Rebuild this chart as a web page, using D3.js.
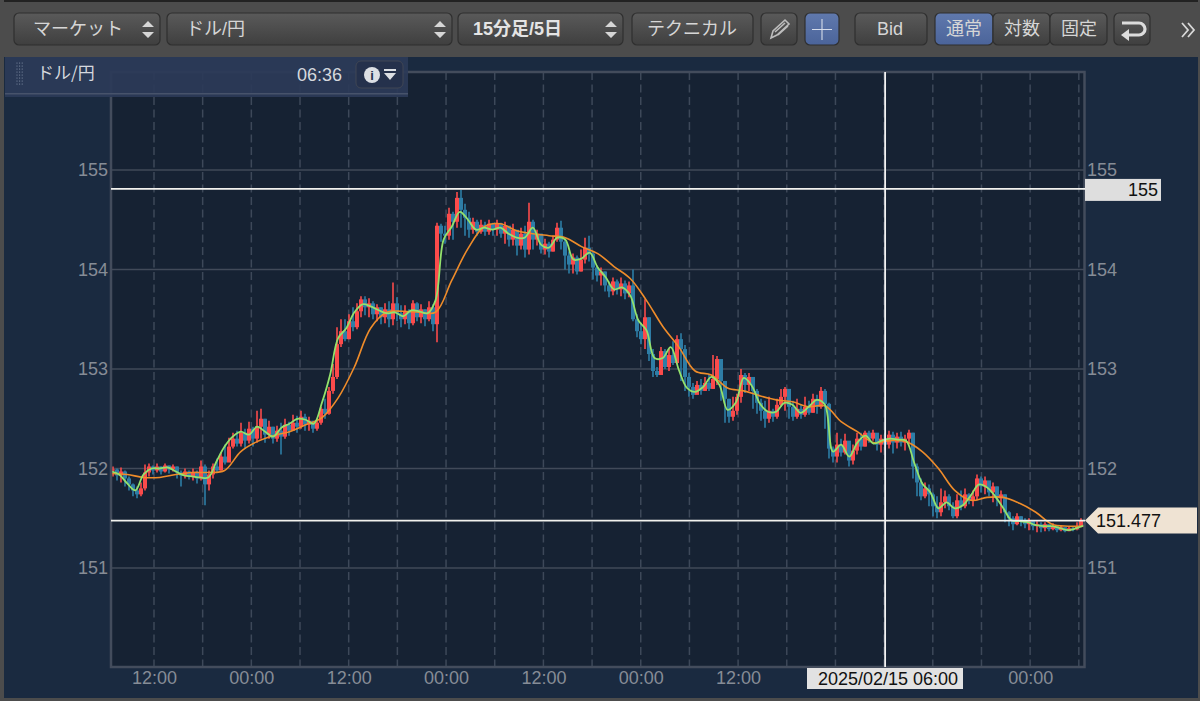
<!DOCTYPE html>
<html>
<head>
<meta charset="utf-8">
<script src="https://d3js.org/d3.v7.min.js"></script>
<style>
  html, body { margin: 0; padding: 0; background: #1a2a40; overflow: hidden; }
  text { font-family: "Liberation Sans", "Noto Sans CJK JP", sans-serif; }
</style>
</head>
<body>
<div id="chart"></div>
<script>
// 30分相当の足 (left to right)
var firstOpen = 151.98;
var closes = [
  151.99,151.93,151.97,151.90,151.84,151.78,151.74,151.80,
  151.96,152.02,151.98,152.02,151.97,152.03,151.99,152.02,
  151.96,151.93,151.97,151.92,151.96,151.90,152.02,151.84,
  151.94,152.02,151.98,152.12,152.06,152.22,152.30,152.25,
  152.36,152.28,152.40,152.30,152.42,152.50,152.34,152.42,
  152.30,152.38,152.32,152.44,152.38,152.46,152.42,152.52,
  152.44,152.48,152.40,152.46,152.60,152.55,152.78,152.92,
  153.25,153.38,153.30,153.48,153.42,153.58,153.70,153.62,
  153.66,153.55,153.62,153.52,153.60,153.50,153.66,153.56,
  153.50,153.58,153.46,153.66,153.52,153.60,153.50,153.62,
  153.45,154.44,154.36,154.34,154.56,154.48,154.72,154.60,
  154.52,154.40,154.48,154.38,154.45,154.38,154.46,154.40,
  154.46,154.36,154.44,154.30,154.40,154.24,154.36,154.20,
  154.48,154.30,154.36,154.20,154.26,154.18,154.30,154.42,
  154.28,154.14,154.05,154.12,153.98,154.10,154.22,154.16,
  154.02,153.94,153.98,153.84,153.78,153.88,153.80,153.86,
  153.76,153.84,153.50,153.38,153.30,153.52,153.15,152.98,
  152.94,153.18,153.02,153.14,153.06,153.30,153.20,152.92,
  152.82,152.74,152.84,152.78,152.86,152.80,152.90,153.10,
  152.88,152.70,152.52,152.58,152.72,152.94,152.84,152.92,
  152.78,152.66,152.58,152.50,152.58,152.52,152.64,152.72,
  152.80,152.62,152.52,152.60,152.54,152.62,152.56,152.70,
  152.62,152.78,152.65,152.20,152.12,152.24,152.16,152.28,
  152.08,152.18,152.30,152.22,152.36,152.30,152.36,152.24,
  152.30,152.24,152.34,152.26,152.32,152.26,152.30,152.36,
  152.02,151.86,151.72,151.80,151.74,151.62,151.56,151.66,
  151.72,151.62,151.52,151.68,151.62,151.74,151.68,151.72,
  151.90,151.82,151.88,151.76,151.82,151.70,151.74,151.56,
  151.50,151.44,151.52,151.47,151.44,151.47,151.42,151.44,
  151.40,151.44,151.39,151.42,151.38,151.41,151.37,151.40,
  151.39,151.42,151.48
];
var highs = [
  152.02,152.00,152.01,151.98,151.92,151.85,151.82,151.86,
  152.04,152.05,152.03,152.05,152.02,152.05,152.03,152.04,
  152.02,151.98,152.00,151.98,152.00,151.98,152.08,152.04,
  151.98,152.05,152.10,152.16,152.24,152.31,152.36,152.38,
  152.46,152.40,152.47,152.42,152.58,152.60,152.50,152.48,
  152.42,152.43,152.46,152.50,152.47,152.54,152.53,152.58,
  152.55,152.52,152.48,152.50,152.62,152.70,152.82,153.05,
  153.42,153.50,153.50,153.55,153.62,153.66,153.73,153.73,
  153.71,153.68,153.65,153.62,153.66,153.68,153.87,153.72,
  153.64,153.64,153.60,153.69,153.67,153.65,153.60,153.68,
  153.65,154.47,154.46,154.44,154.62,154.58,154.78,154.80,
  154.66,154.58,154.52,154.50,154.50,154.48,154.50,154.47,
  154.50,154.47,154.48,154.42,154.46,154.38,154.42,154.44,
  154.67,154.50,154.40,154.36,154.31,154.28,154.34,154.47,
  154.49,154.32,154.18,154.16,154.14,154.20,154.32,154.34,
  154.18,154.04,154.02,153.98,153.88,153.92,153.90,153.92,
  153.89,153.88,154.00,153.55,153.46,153.70,153.52,153.20,
  153.02,153.22,153.20,153.20,153.28,153.34,153.36,153.24,
  152.96,152.86,152.88,152.90,152.92,152.95,153.14,153.13,
  152.98,152.88,152.70,152.72,152.75,153.00,152.96,152.96,
  152.90,152.80,152.70,152.68,152.72,152.60,152.70,152.80,
  152.82,152.72,152.68,152.70,152.64,152.72,152.68,152.75,
  152.74,152.82,152.80,152.66,152.22,152.36,152.30,152.35,
  152.20,152.24,152.36,152.36,152.38,152.38,152.39,152.33,
  152.34,152.36,152.38,152.37,152.36,152.37,152.34,152.39,
  152.36,152.05,151.90,151.86,151.84,151.76,151.72,151.80,
  151.78,151.74,151.66,151.74,151.78,151.80,151.75,151.78,
  151.94,151.92,151.92,151.84,151.86,151.82,151.78,151.74,
  151.57,151.52,151.55,151.52,151.50,151.50,151.48,151.47,
  151.46,151.46,151.44,151.45,151.42,151.43,151.41,151.42,
  151.42,151.46,151.50
];
var lows = [
  151.92,151.88,151.86,151.82,151.78,151.72,151.70,151.72,
  151.78,151.92,151.94,151.96,151.94,151.96,151.95,151.97,
  151.90,151.82,151.90,151.89,151.88,151.85,151.88,151.63,
  151.78,151.90,151.96,151.98,152.04,152.08,152.20,152.22,
  152.22,152.20,152.25,152.22,152.26,152.30,152.26,152.30,
  152.25,152.27,152.14,152.30,152.33,152.38,152.36,152.40,
  152.38,152.38,152.36,152.38,152.44,152.50,152.54,152.75,
  152.90,153.22,153.28,153.30,153.38,153.40,153.52,153.54,
  153.52,153.50,153.48,153.45,153.46,153.42,153.44,153.48,
  153.42,153.45,153.40,153.44,153.48,153.46,153.43,153.48,
  153.38,153.27,154.28,154.26,154.30,154.30,154.42,154.42,
  154.34,154.32,154.36,154.34,154.36,154.34,154.35,154.34,
  154.34,154.32,154.26,154.23,154.24,154.14,154.20,154.12,
  154.15,154.20,154.24,154.16,154.15,154.12,154.18,154.28,
  154.20,154.00,153.96,153.96,153.95,153.98,154.06,154.08,
  153.90,153.88,153.84,153.78,153.72,153.74,153.75,153.73,
  153.70,153.72,153.48,153.32,153.25,153.20,153.08,152.92,
  152.92,152.94,153.00,152.98,153.04,153.05,152.88,152.78,
  152.72,152.70,152.76,152.74,152.78,152.78,152.80,152.84,
  152.68,152.46,152.46,152.48,152.54,152.66,152.76,152.78,
  152.60,152.55,152.48,152.41,152.46,152.47,152.50,152.62,
  152.58,152.50,152.48,152.50,152.50,152.52,152.54,152.56,
  152.55,152.60,152.40,152.10,152.06,152.06,152.12,152.14,
  152.02,152.04,152.14,152.18,152.22,152.26,152.28,152.18,
  152.16,152.18,152.20,152.15,152.20,152.22,152.18,152.24,
  151.90,151.72,151.68,151.70,151.62,151.52,151.50,151.52,
  151.60,151.58,151.50,151.50,151.58,151.60,151.64,151.62,
  151.68,151.76,151.74,151.72,151.66,151.62,151.55,151.46,
  151.42,151.38,151.43,151.42,151.40,151.38,151.38,151.36,
  151.36,151.37,151.37,151.38,151.36,151.37,151.36,151.37,
  151.37,151.38,151.41
];

// short MA, one value per hour
var shortMa = [
  151.97,151.94,151.85,151.78,151.94,152.00,152.00,152.01,151.97,151.93,
  151.92,151.91,151.91,152.07,152.22,152.32,152.37,152.34,152.42,152.37,
  152.32,152.41,152.45,152.50,152.49,152.45,152.66,152.94,153.31,153.41,
  153.57,153.65,153.63,153.59,153.56,153.57,153.53,153.59,153.58,153.56,
  153.69,154.30,154.43,154.58,154.50,154.40,154.42,154.40,154.42,154.36,
  154.32,154.32,154.42,154.25,154.22,154.32,154.30,154.10,154.11,154.17,
  154.02,153.92,153.80,153.82,153.74,153.49,153.39,153.11,153.11,153.22,
  152.99,152.81,152.77,152.82,152.92,152.84,152.59,152.66,152.91,152.83,
  152.65,152.57,152.57,152.66,152.64,152.56,152.62,152.69,152.64,152.17,
  152.24,152.12,152.26,152.33,152.25,152.28,152.30,152.29,152.28,152.06,
  151.85,151.76,151.60,151.66,151.60,151.63,151.73,151.84,151.81,151.72,
  151.60,151.48,151.47,151.46,151.43,151.42,151.42,151.40,151.38,151.40,
  151.43
];
// long MA, one value every 2 hours
var longMa = [
  151.95,151.94,151.91,151.91,151.94,151.96,151.96,151.98,152.17,152.27,
  152.33,152.37,152.44,152.51,152.71,153.02,153.41,153.57,153.58,153.57,
  153.57,153.89,154.21,154.43,154.46,154.39,154.36,154.34,154.32,154.23,
  154.16,154.03,153.91,153.69,153.43,153.22,152.98,152.94,152.81,152.78,
  152.73,152.69,152.67,152.62,152.63,152.47,152.37,152.26,152.28,152.27,
  152.17,152.00,151.78,151.68,151.71,151.71,151.65,151.56,151.44,151.42,
  151.42
];

var priceTicks = [151, 152, 153, 154, 155];
var gridHours = [5.3,11.3,17.3,23.3,29.3,35.3,41.3,47.3,53.3,59.3,65.3,71.3,77.3,83.3,89.3,95.3,101.3,107.3,113.3,119.3];
var labelHours = [5.3,17.3,29.3,41.3,53.3,65.3,77.3,113.3];
var labelTexts = ["12:00","00:00","12:00","00:00","12:00","00:00","12:00","00:00"];
var linePrices = [154.81, 151.477];
var crossHour = 95.3;
var crossLabel = "2025/02/15 06:00";
var lastPrice = "151.477";
var alertPrice = "155";

// toolbar buttons
var buttons = [
  { x: 14, w: 146, t: "マーケット", tx: 33, sel: true },
  { x: 167, w: 285, t: "ドル/円", tx: 186, sel: true },
  { x: 458, w: 165, t: "15分足/5日", tx: 473, sel: true, bold: true },
  { x: 632, w: 121, t: "テクニカル", tx: 647 },
  { x: 761, w: 36, t: "" },
  { x: 805, w: 34, t: "", on: true },
  { x: 855, w: 72, t: "Bid", tx: 877 },
  { x: 935, w: 58, t: "通常", tx: 946, on: true },
  { x: 993, w: 57, t: "対数", tx: 1004 },
  { x: 1050, w: 57, t: "固定", tx: 1061 },
  { x: 1114, w: 36, t: "" }
];

var W = 1200, H = 701;
var left = 111, right = 1084.5, top_ = 72, bottom = 667;

var svg = d3.select("#chart").append("svg").attr("width", W).attr("height", H);
var defs = svg.append("defs");
var g1 = defs.append("linearGradient").attr("id", "btn").attr("x1", 0).attr("x2", 0).attr("y1", 0).attr("y2", 1);
g1.append("stop").attr("offset", 0).attr("stop-color", "#5a5a5a");
g1.append("stop").attr("offset", 1).attr("stop-color", "#3f3f3f");
var g2 = defs.append("linearGradient").attr("id", "btnOn").attr("x1", 0).attr("x2", 0).attr("y1", 0).attr("y2", 1);
g2.append("stop").attr("offset", 0).attr("stop-color", "#6079ad");
g2.append("stop").attr("offset", 1).attr("stop-color", "#4b649a");
defs.append("filter").attr("id", "soft").append("feGaussianBlur").attr("stdDeviation", 0.45);

svg.append("rect").attr("width", W).attr("height", H).attr("fill", "#1a2a40");
svg.append("rect").attr("width", W).attr("height", 57).attr("fill", "#4c4c4c");
svg.append("rect").attr("width", W).attr("height", 2).attr("fill", "#222");
svg.append("rect").attr("width", 4).attr("height", H).attr("fill", "#4c4c4c");
svg.append("rect").attr("x", W - 2).attr("width", 2).attr("height", H).attr("fill", "#4c4c4c");
svg.append("rect").attr("y", H - 3).attr("width", W).attr("height", 3).attr("fill", "#4c4c4c");

var x = d3.scaleLinear().domain([0, 120]).range([left, right]);
var y = d3.scaleLinear().domain([150.015, 155.985]).range([666, 72]);
var band = d3.scaleBand().domain(d3.range(closes.length)).range([left, 1083]).padding(0);

svg.append("rect").attr("x", left).attr("y", top_).attr("width", right - left).attr("height", bottom - top_).attr("fill", "#162233");

// grid
svg.append("g").selectAll("line").data(gridHours).enter().append("line")
  .attr("x1", function (d) { return x(d); }).attr("x2", function (d) { return x(d); })
  .attr("y1", top_).attr("y2", bottom)
  .attr("stroke", "#3d4859").attr("stroke-width", 1.5).attr("stroke-dasharray", "8,4.5");
svg.append("g").selectAll("line").data(priceTicks).enter().append("line")
  .attr("x1", left).attr("x2", right)
  .attr("y1", function (d) { return y(d); }).attr("y2", function (d) { return y(d); })
  .attr("stroke", "#414a59").attr("stroke-width", 1.5);

// candles
var idx = d3.range(closes.length);
var opens = closes.map(function (c, i) { return i ? closes[i - 1] : firstOpen; });
var upColor = "#fb4b4b", downColor = "#2d7da6";
function barColor(i) { return closes[i] >= opens[i] ? upColor : downColor; }
var candles = svg.append("g").attr("filter", "url(#soft)");
candles.selectAll(".wick").data(idx).enter().append("line").attr("class", "wick")
  .attr("x1", function (i) { return band(i) + band.bandwidth() / 2; })
  .attr("x2", function (i) { return band(i) + band.bandwidth() / 2; })
  .attr("y1", function (i) { return y(highs[i]); })
  .attr("y2", function (i) { return y(lows[i]); })
  .attr("stroke", barColor).attr("stroke-width", 1.6);
candles.selectAll(".body").data(idx).enter().append("rect").attr("class", "body")
  .attr("x", function (i) { return band(i); })
  .attr("width", band.bandwidth())
  .attr("y", function (i) { return y(Math.max(opens[i], closes[i])); })
  .attr("height", function (i) { return Math.max(1, Math.abs(y(opens[i]) - y(closes[i]))); })
  .attr("fill", barColor);

// moving averages
var shortLine = d3.line().x(function (d, i) { return x(i); }).y(function (d) { return y(d); }).curve(d3.curveCatmullRom);
var longLine = d3.line().x(function (d, i) { return x(i * 2); }).y(function (d) { return y(d); }).curve(d3.curveCatmullRom);
svg.append("path").attr("d", longLine(longMa)).attr("fill", "none").attr("stroke", "#ef8c2a").attr("stroke-width", 1.6);
svg.append("path").attr("d", shortLine(shortMa)).attr("fill", "none").attr("stroke", "#94e26c").attr("stroke-width", 1.8);

// frame
svg.append("rect").attr("x", left).attr("y", top_).attr("width", right - left).attr("height", bottom - top_)
  .attr("fill", "none").attr("stroke", "#434c5c").attr("stroke-width", 2.5);

// axes
var axisL = d3.axisLeft(y).tickValues(priceTicks).tickSize(0).tickPadding(3).tickFormat(d3.format("d"));
var axisR = d3.axisRight(y).tickValues(priceTicks).tickSize(0).tickPadding(3).tickFormat(d3.format("d"));
var axisB = d3.axisBottom(x).tickValues(labelHours).tickSize(0).tickPadding(4)
  .tickFormat(function (d, i) { return labelTexts[i]; });
[svg.append("g").attr("transform", "translate(" + left + ",0)").call(axisL),
 svg.append("g").attr("transform", "translate(1084,0)").call(axisR),
 svg.append("g").attr("transform", "translate(0," + bottom + ")").call(axisB)].forEach(function (a) {
  a.select(".domain").remove();
  a.selectAll("text").attr("fill", "#868c96").style("font-size", "18px").style("font-family", '"Liberation Sans"');
});

// horizontal lines and crosshair
svg.append("g").selectAll("line").data(linePrices).enter().append("line")
  .attr("x1", left).attr("x2", 1085)
  .attr("y1", function (d) { return y(d); }).attr("y2", function (d) { return y(d); })
  .attr("stroke", "#f2f2ee").attr("stroke-width", 1.8);
svg.append("line").attr("x1", x(crossHour) + 1).attr("x2", x(crossHour) + 1).attr("y1", top_).attr("y2", bottom)
  .attr("stroke", "#f2f2f2").attr("stroke-width", 1.8);

// labels on the axes
svg.append("rect").attr("x", 1085).attr("y", y(154.81) - 10).attr("width", 76).attr("height", 22).attr("fill", "#dedede");
svg.append("text").attr("x", 1158).attr("y", y(154.81) + 7).attr("text-anchor", "end").attr("font-size", 18).attr("fill", "#111").text(alertPrice);
svg.append("path").attr("d", d3.line()([[1085, y(151.477)], [1098, y(151.477) - 13], [1197, y(151.477) - 13], [1197, y(151.477) + 13], [1098, y(151.477) + 13]]) + "Z").attr("fill", "#efe3d3");
svg.append("text").attr("x", 1096).attr("y", y(151.477) + 6).attr("font-size", 18).attr("fill", "#111").text(lastPrice);
svg.append("rect").attr("x", 807).attr("y", 668).attr("width", 156).attr("height", 21).attr("fill", "#e2e2e2");
svg.append("text").attr("x", 818).attr("y", 685).attr("font-size", 18).attr("fill", "#111").text(crossLabel);

// toolbar
var tb = svg.append("g").selectAll("g").data(buttons).enter().append("g");
tb.append("rect")
  .attr("x", function (d) { return d.x; }).attr("y", 13)
  .attr("width", function (d) { return d.w; }).attr("height", 32).attr("rx", 5)
  .attr("fill", function (d) { return d.on ? "url(#btnOn)" : "url(#btn)"; })
  .attr("stroke", "#2f2f2f").attr("stroke-width", 1.2);
tb.append("text")
  .attr("x", function (d) { return d.tx; }).attr("y", 35)
  .attr("font-size", 18)
  .attr("font-weight", function (d) { return d.bold ? "bold" : "normal"; })
  .attr("fill", function (d) { return d.bold ? "#e4e4e4" : "#d6d6d6"; })
  .style("font-family", '"Liberation Sans","Noto Sans CJK JP"')
  .text(function (d) { return d.t; });
tb.filter(function (d) { return d.sel; }).append("path")
  .attr("d", function (d) {
    var c = d.x + d.w - 12;
    return "M" + (c - 6) + ",27l6,-6l6,6zM" + (c - 6) + ",32l6,6l6,-6z";
  }).attr("fill", "#d6d6d6");

// pencil, cross, return, >>
svg.append("path").attr("d", "M771,38l2,-7l12,-11l4,4l-12,11zM775,32l10,-9M778,35l10,-9").attr("fill", "none").attr("stroke", "#bdbdbd").attr("stroke-width", 1.6);
svg.append("path").attr("d", "M812,29.5h20M822,19v21").attr("stroke", "#d5dcea").attr("stroke-width", 1.1);
svg.append("path").attr("d", "M1122,23h17a5,5 0 0 1 0,12h-14").attr("fill", "none").attr("stroke", "#dcdcdc").attr("stroke-width", 3.2);
svg.append("path").attr("d", "M1129,29l-8,6l8,6z").attr("fill", "#dcdcdc");
svg.append("path").attr("d", "M1182,23l6,7l-6,7M1188,23l6,7l-6,7").attr("fill", "none").attr("stroke", "#d8d8d8").attr("stroke-width", 1.8);

// info bar
svg.append("rect").attr("x", 5).attr("y", 57).attr("width", 403).attr("height", 40).attr("fill", "#2c3a58").attr("opacity", 0.93);
svg.append("rect").attr("x", 5).attr("y", 93).attr("width", 403).attr("height", 1.5).attr("fill", "#47536b");
svg.append("g").selectAll("circle").data(d3.range(24)).enter().append("circle")
  .attr("cx", function (d) { return 17 + (d % 3) * 2.6; })
  .attr("cy", function (d) { return 63 + Math.floor(d / 3) * 3; })
  .attr("r", 0.6).attr("fill", "#8592a8");
svg.append("text").attr("x", 37).attr("y", 79).attr("font-size", 17).attr("fill", "#d5d8de").style("font-family", '"Noto Sans CJK JP"').text("ドル/円");
svg.append("text").attr("x", 297).attr("y", 81).attr("font-size", 18).attr("fill", "#d5d8de").text("06:36");
svg.append("rect").attr("x", 356).attr("y", 61).attr("width", 47).attr("height", 27).attr("rx", 5).attr("fill", "#25314c").attr("stroke", "#404654");
svg.append("circle").attr("cx", 372).attr("cy", 75).attr("r", 8).attr("fill", "#dcdfe4");
svg.append("text").attr("x", 372).attr("y", 80).attr("text-anchor", "middle").attr("font-size", 13).attr("font-weight", "bold").attr("fill", "#25314c").text("i");
svg.append("path").attr("d", "M384,69h12v2h-12zM384,73h12l-6,7z").attr("fill", "#dcdfe4");
</script>
</body>
</html>
